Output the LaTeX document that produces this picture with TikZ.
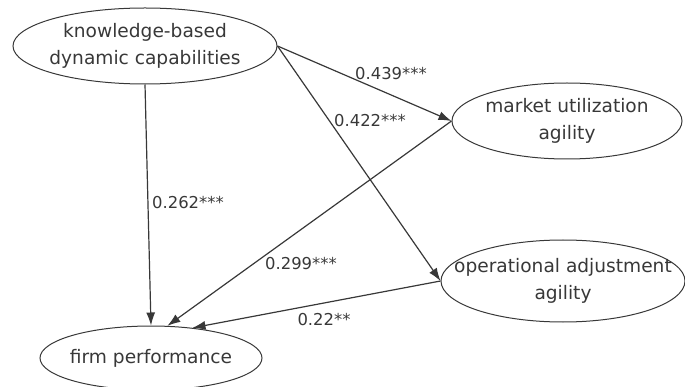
\documentclass[tikz,border=0pt]{standalone}
\usepackage{fontspec}
\setmainfont{DejaVu Sans}
\usetikzlibrary{shapes,arrows.meta,positioning}
\definecolor{trazo}{HTML}{383838}

\begin{document}
\begin{tikzpicture}[x=1pt, y=-1pt, node distance=2cm, auto]

    \tikzstyle{circulo} = [
        ellipse,
        draw=trazo,
        line width=1pt,
        text=trazo,
        align=center,
        inner xsep=-40pt,
        inner ysep=-10pt,
        font=\fontsize{18.6}{27}\selectfont
    ]
    \tikzstyle{peso} = [
        text=trazo,
        inner sep=0pt,
        font=\fontsize{16.4}{19}\selectfont
    ]
    \tikzstyle{line} = [
        draw=trazo,
        line width=1.2pt,
        -{Latex[length=13pt, width=9pt]}
    ]

    \useasboundingbox (0,0) rectangle (685,387);

    \node [circulo, minimum width=264pt, minimum height=76pt] at (145,46) (kbc)
        {knowledge-based\\dynamic capabilities};
    \node [circulo, minimum width=230pt, minimum height=76pt,
        right of=kbc, node distance=422pt, yshift=-75pt] (mua)
        {market utilization\\agility};
    \node [circulo, minimum width=244pt, minimum height=82pt,
        below of=mua, node distance=160pt, xshift=-4pt] (oaa)
        {operational adjustment\\agility};
    \node [circulo, minimum width=222pt, minimum height=64pt,
        below of=kbc, node distance=312pt, xshift=6pt] (fir)
        {firm performance};

    \path [line] (kbc.east)  -- (mua.west);
    \path [line] (kbc.east)  -- (oaa.west);
    \path [line] (kbc.south) -- (fir.north);
    \path [line] (mua.west)  -- (fir.63);
    \path [line] (oaa.west)  -- (fir.36);

    \node [peso] at (391,74)  (w1) {0.439***};
    \node [peso] at (370,121) (w2) {0.422***};
    \node [peso] at (188,203) (w3) {0.262***};
    \node [peso] at (301,264) (w4) {0.299***};
    \node [peso] at (324,320) (w5) {0.22**};

\end{tikzpicture}
\end{document}
